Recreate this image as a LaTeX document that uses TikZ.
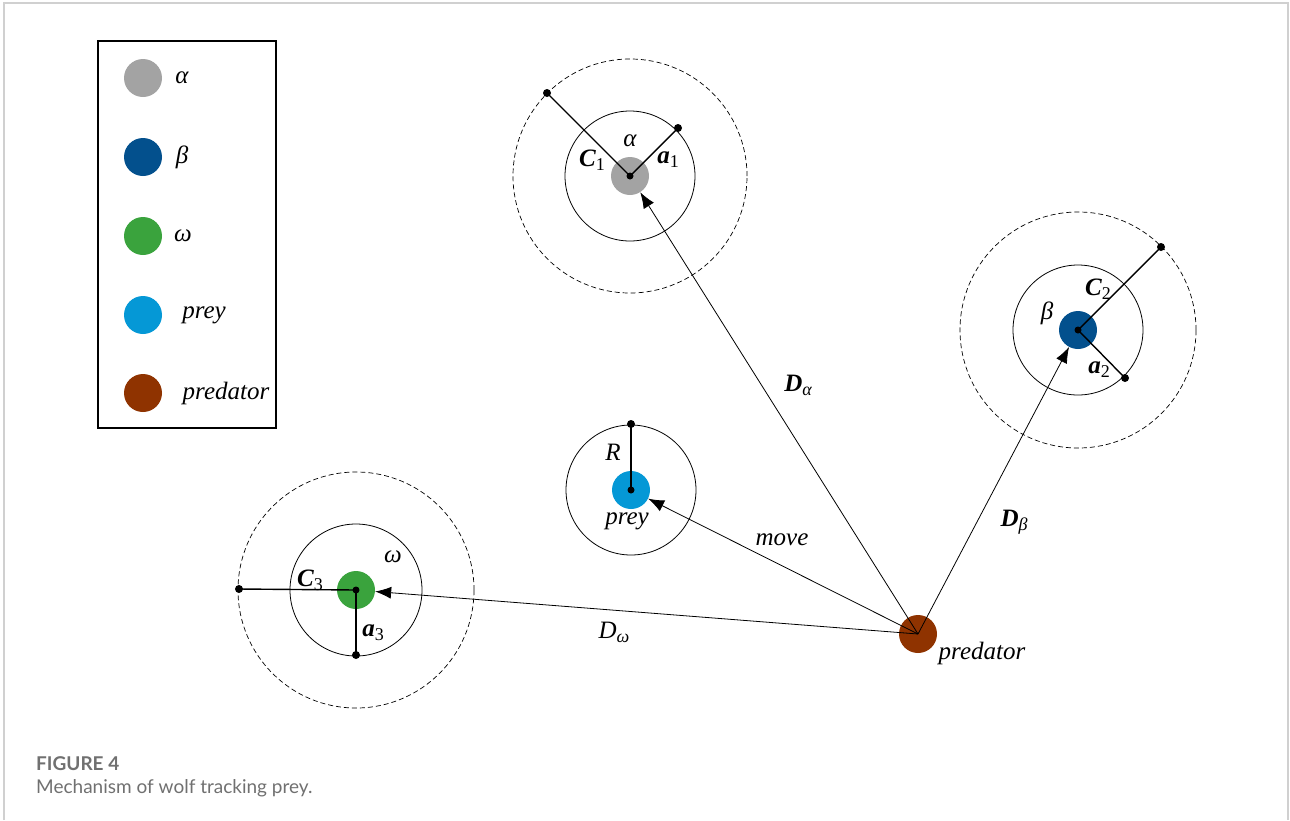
\documentclass[tikz,border=0pt]{standalone}
\usepackage{fontspec}
\setmainfont{Liberation Serif}
\newfontfamily\capfont{Lato}
\usetikzlibrary{arrows.meta}
\definecolor{cgray}{HTML}{A3A3A3}
\definecolor{cbeta}{HTML}{03508D}
\definecolor{cgreen}{HTML}{3AA33D}
\definecolor{cprey}{HTML}{0598D6}
\definecolor{cpred}{HTML}{8F3300}
\definecolor{cframe}{HTML}{D0D0D0}
\definecolor{ccap}{HTML}{707070}
\newcommand{\bsub}[2]{\textbf{\textit{#1}}\raisebox{-0.35ex}{\fontsize{18}{18}\selectfont #2}}
\newcommand{\isub}[2]{\textit{#1}\raisebox{-0.35ex}{\fontsize{18}{18}\selectfont\textit{#2}}}
\tikzset{
  wolf/.style={circle, minimum size=38pt, inner sep=0pt},
  dot/.style={circle, fill=black, minimum size=8pt, inner sep=0pt},
  lbl/.style={font=\fontsize{25}{25}\selectfont\itshape, inner sep=0pt},
  ring/.style={line width=0.8pt},
  dring/.style={line width=0.7pt, dash pattern=on 5pt off 3pt},
  rad/.style={line width=1.4pt},
  arr/.style={line width=0.8pt, -{Latex[length=16pt,width=12pt]}},
}
\begin{document}
\begin{tikzpicture}[x=1pt,y=-1pt]
\useasboundingbox (0,0) rectangle (1290,820);
% frame
\draw[cframe, line width=1.6pt] (4,820) -- (4,3) -- (1288,3) -- (1288,820);
% legend
\draw[line width=1.2pt] (98,41) rectangle (276,428);
\node[wolf, fill=cgray] (lga) at (143,78) {};
\node[wolf, fill=cbeta] (lgb) at (143,157) {};
\node[wolf, fill=cgreen] (lgw) at (143,236) {};
\node[wolf, fill=cprey] (lgp) at (143,315) {};
\node[wolf, fill=cpred] (lgd) at (143,393) {};
\node[lbl] (lta) at (182,78) {α};
\node[lbl] (ltb) at (182,157) {β};
\node[lbl] (ltw) at (183,236) {ω};
\node[lbl] (ltp) at (204,315) {prey};
\node[lbl] (ltd) at (226,393) {predator};
% alpha
\draw[ring] (630,176) circle (65pt);
\draw[dring] (630,176) circle (117pt);
\node[wolf, fill=cgray] (alpha) at (630,176) {};
\node[dot] (ca) at (547,93) {};
\node[dot] (aa) at (678,128) {};
\draw[rad] (alpha.center) -- (ca.center);
\draw[rad] (alpha.center) -- (aa.center);
\node[dot, minimum size=7pt] at (alpha.center) {};
\node[lbl] (la) at (630,141) {α};
\node[lbl, font=\fontsize{25}{25}\selectfont] (lc1) at (592,160) {\bsub{C}{1}};
\node[lbl, font=\fontsize{25}{25}\selectfont] (la1) at (668,160) {\bsub{a}{1}};
% beta
\draw[ring] (1078,330) circle (65pt);
\draw[dring] (1078,330) circle (118pt);
\node[wolf, fill=cbeta] (beta) at (1078,330) {};
\node[dot] (cb) at (1161,247) {};
\node[dot] (ab) at (1125,378) {};
\draw[rad] (beta.center) -- (cb.center);
\draw[rad] (beta.center) -- (ab.center);
\node[dot, minimum size=7pt] at (beta.center) {};
\node[lbl] (lb) at (1047,313) {β};
\node[lbl, font=\fontsize{25}{25}\selectfont] (lc2) at (1098,289) {\bsub{C}{2}};
\node[lbl, font=\fontsize{25}{25}\selectfont] (la2) at (1099,370) {\bsub{a}{2}};
% omega
\draw[ring] (356,590) circle (66pt);
\draw[dring] (356,590) circle (118pt);
\node[wolf, fill=cgreen] (omega) at (356,590) {};
\node[dot] (cw) at (239,589) {};
\node[dot] (aw) at (356,655) {};
\draw[rad] (omega.center) -- (cw.center);
\draw[rad] (omega.center) -- (aw.center);
\node[dot, minimum size=7pt] at (omega.center) {};
\node[lbl] (lw) at (393,557) {ω};
\node[lbl, font=\fontsize{25}{25}\selectfont] (lc3) at (310,580) {\bsub{C}{3}};
\node[lbl, font=\fontsize{25}{25}\selectfont] (la3) at (373,633) {\bsub{a}{3}};
% prey
\draw[ring] (631,490) circle (65pt);
\node[wolf, fill=cprey] (prey) at (631,490) {};
\node[dot] (rp) at (631,424) {};
\draw[rad] (prey.center) -- (rp.center);
\node[dot, minimum size=7pt] at (prey.center) {};
\node[lbl] (lr) at (613,452) {R};
\node[lbl] (lp) at (627,521) {prey};
% predator
\node[wolf, fill=cpred] (pred) at (918,634) {};
\node[lbl] (ld) at (982,653) {predator};
% arrows
\draw[arr] (pred.center) -- (alpha);
\draw[arr] (pred.center) -- (beta);
\draw[arr] (pred.center) -- (prey);
\draw[arr] (pred.center) -- (omega);
\node[lbl, font=\fontsize{25}{25}\selectfont] (lda) at (798,385) {\bsub{D}{\itshape α}};
\node[lbl, font=\fontsize{25}{25}\selectfont] (ldb) at (1014,522) {\bsub{D}{\itshape β}};
\node[lbl] (lmv) at (782,540) {move};
\node[lbl] (ldw) at (614,632) {\isub{D}{ω}};
% caption
\node[anchor=west, inner sep=0pt, text=ccap, font=\capfont\bfseries\fontsize{19}{19}\selectfont] (cap1) at (36,764) {FIGURE 4};
\node[anchor=west, inner sep=0pt, text=ccap, font=\capfont\fontsize{19}{19}\selectfont] (cap2) at (36,788) {Mechanism of wolf tracking prey.};
\end{tikzpicture}
\end{document}
